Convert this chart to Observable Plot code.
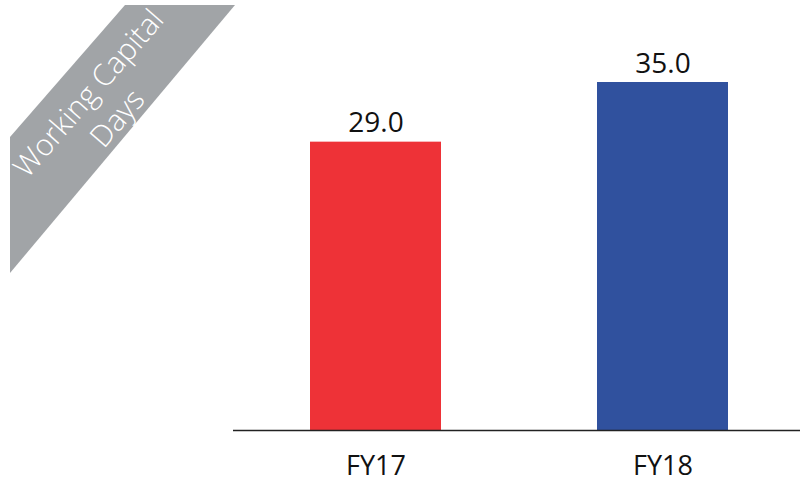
<!DOCTYPE html>
<html>
<head>
<meta charset="utf-8">
<script src="https://cdn.jsdelivr.net/npm/d3@7"></script>
<script src="https://cdn.jsdelivr.net/npm/@observablehq/plot@0.6"></script>
<style>
  html, body { margin: 0; padding: 0; background: #fff; }
  #chart { width: 802px; height: 486px; }
</style>
</head>
<body>
<div id="chart"></div>
<script>
const categories = ["FY17", "FY18"];
const values = [29.0, 35.0];
const barColors = ["#EE3237", "#30519E"];
const bannerLines = ["Working Capital", "Days"];

const data = categories.map((c, i) => ({category: c, value: values[i], color: barColors[i]}));

const font = "'Open Sans', 'Noto Sans', sans-serif";

function banner() {
  const g = d3.create("svg:g");
  g.append("polygon")
    .attr("points", "125,5 235,5 10,273 10,137")
    .attr("fill", "#A1A4A7");
  const t = g.append("g")
    .attr("transform", "translate(102,105) rotate(-49)");
  bannerLines.forEach((line, i) => {
    t.append("text")
      .attr("x", 0)
      .attr("y", (i - 0.5) * 38)
      .attr("text-anchor", "middle")
      .attr("dominant-baseline", "central")
      .attr("fill", "#fff")
      .attr("font-family", font)
      .attr("font-weight", 300)
      .attr("font-size", 30)
      .text(line);
  });
  return g.node();
}

const chart = Plot.plot({
  width: 802,
  height: 486,
  marginLeft: 233,
  marginRight: 2,
  marginTop: 82,
  marginBottom: 56,
  style: {fontFamily: font, background: "#fff"},
  x: {domain: categories, range: [236, 802], paddingInner: 0.544, paddingOuter: 0.258, label: null},
  y: {domain: [0, 35], axis: null},
  marks: [
    banner,
    Plot.barY(data, {x: "category", y: "value", fill: "color"}),
    Plot.ruleY([0], {stroke: "#222", strokeWidth: 1.5}),
    Plot.text(data, {x: "category", y: "value", text: d => d.value.toFixed(1), lineAnchor: "bottom", dy: -10, fontSize: 28, fill: "#111"}),
    Plot.axisX({tickSize: 0, tickPadding: 25, fontSize: 27, color: "#111", label: null})
  ]
});
document.getElementById("chart").appendChild(chart);
</script>
</body>
</html>
